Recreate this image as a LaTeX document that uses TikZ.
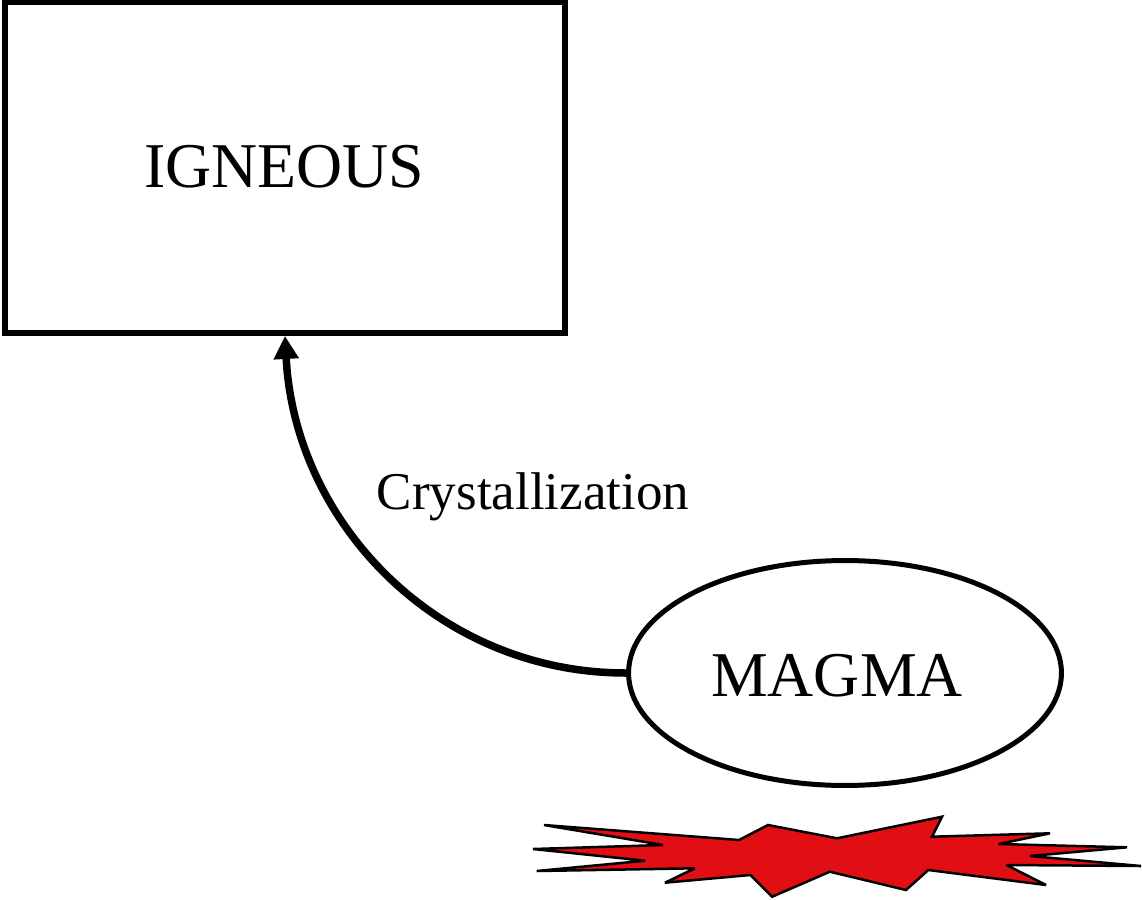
\documentclass[tikz,border=0pt]{standalone}
\usepackage{fontspec}
\setmainfont{Liberation Serif}
\usetikzlibrary{shapes.geometric,arrows.meta}
\tikzset{
  rockbox/.style={draw, line width=0.12cm, minimum width=11.2cm, minimum height=6.62cm},
  meltellipse/.style={draw, ellipse, line width=0.1cm, minimum width=8.66cm, minimum height=4.5cm},
  rocklabel/.style={font=\fontsize{36.3}{40}\selectfont},
  steplabel/.style={font=\fontsize{30.2}{34}\selectfont},
  steparrow/.style={line width=0.15cm, -{Triangle[length=0.46cm,width=0.48cm]}}
}
\definecolor{heatred}{RGB}{225,15,20}
\begin{document}
\begin{tikzpicture}[x=0.02cm,y=-0.02cm]
        \useasboundingbox (0,0) rectangle (1142,899);

        % Draw rock box and melt
        \node[rockbox] (igneous) at (285,167.5) {};
        \node[rocklabel] (igneoustext) at (284,167) {IGNEOUS};

        \node[meltellipse] (magma) at (845,673) {};
        \node[rocklabel] (magmatext) at (837,676) {MAGMA};

        % Indicate crystallization
        \draw[steparrow] (magma.west) to[out=180,in=-87] (igneous.south);
        \node[steplabel] (crystallization) at (533,497) {Crystallization};

        % Draw heat burst
        \draw[fill=heatred, line width=0.05cm, miter limit=4] (544,825) -- (739,840) -- (768,825) -- (837,838.3)
            -- (942,816.7) -- (932,836.7) -- (1050,833.3) -- (998.6,844) -- (1127,847.3)
            -- (1030,856) -- (1141,866) -- (1006.5,865) -- (1046,885) -- (928.3,870)
            -- (906,890) -- (829.8,871.7) -- (772.2,896.7) -- (750.3,875) -- (665,882.7)
            -- (694.7,868.3) -- (536.7,871) -- (645,860.7) -- (533,849) -- (663,845) -- cycle;
    \end{tikzpicture}
\end{document}
